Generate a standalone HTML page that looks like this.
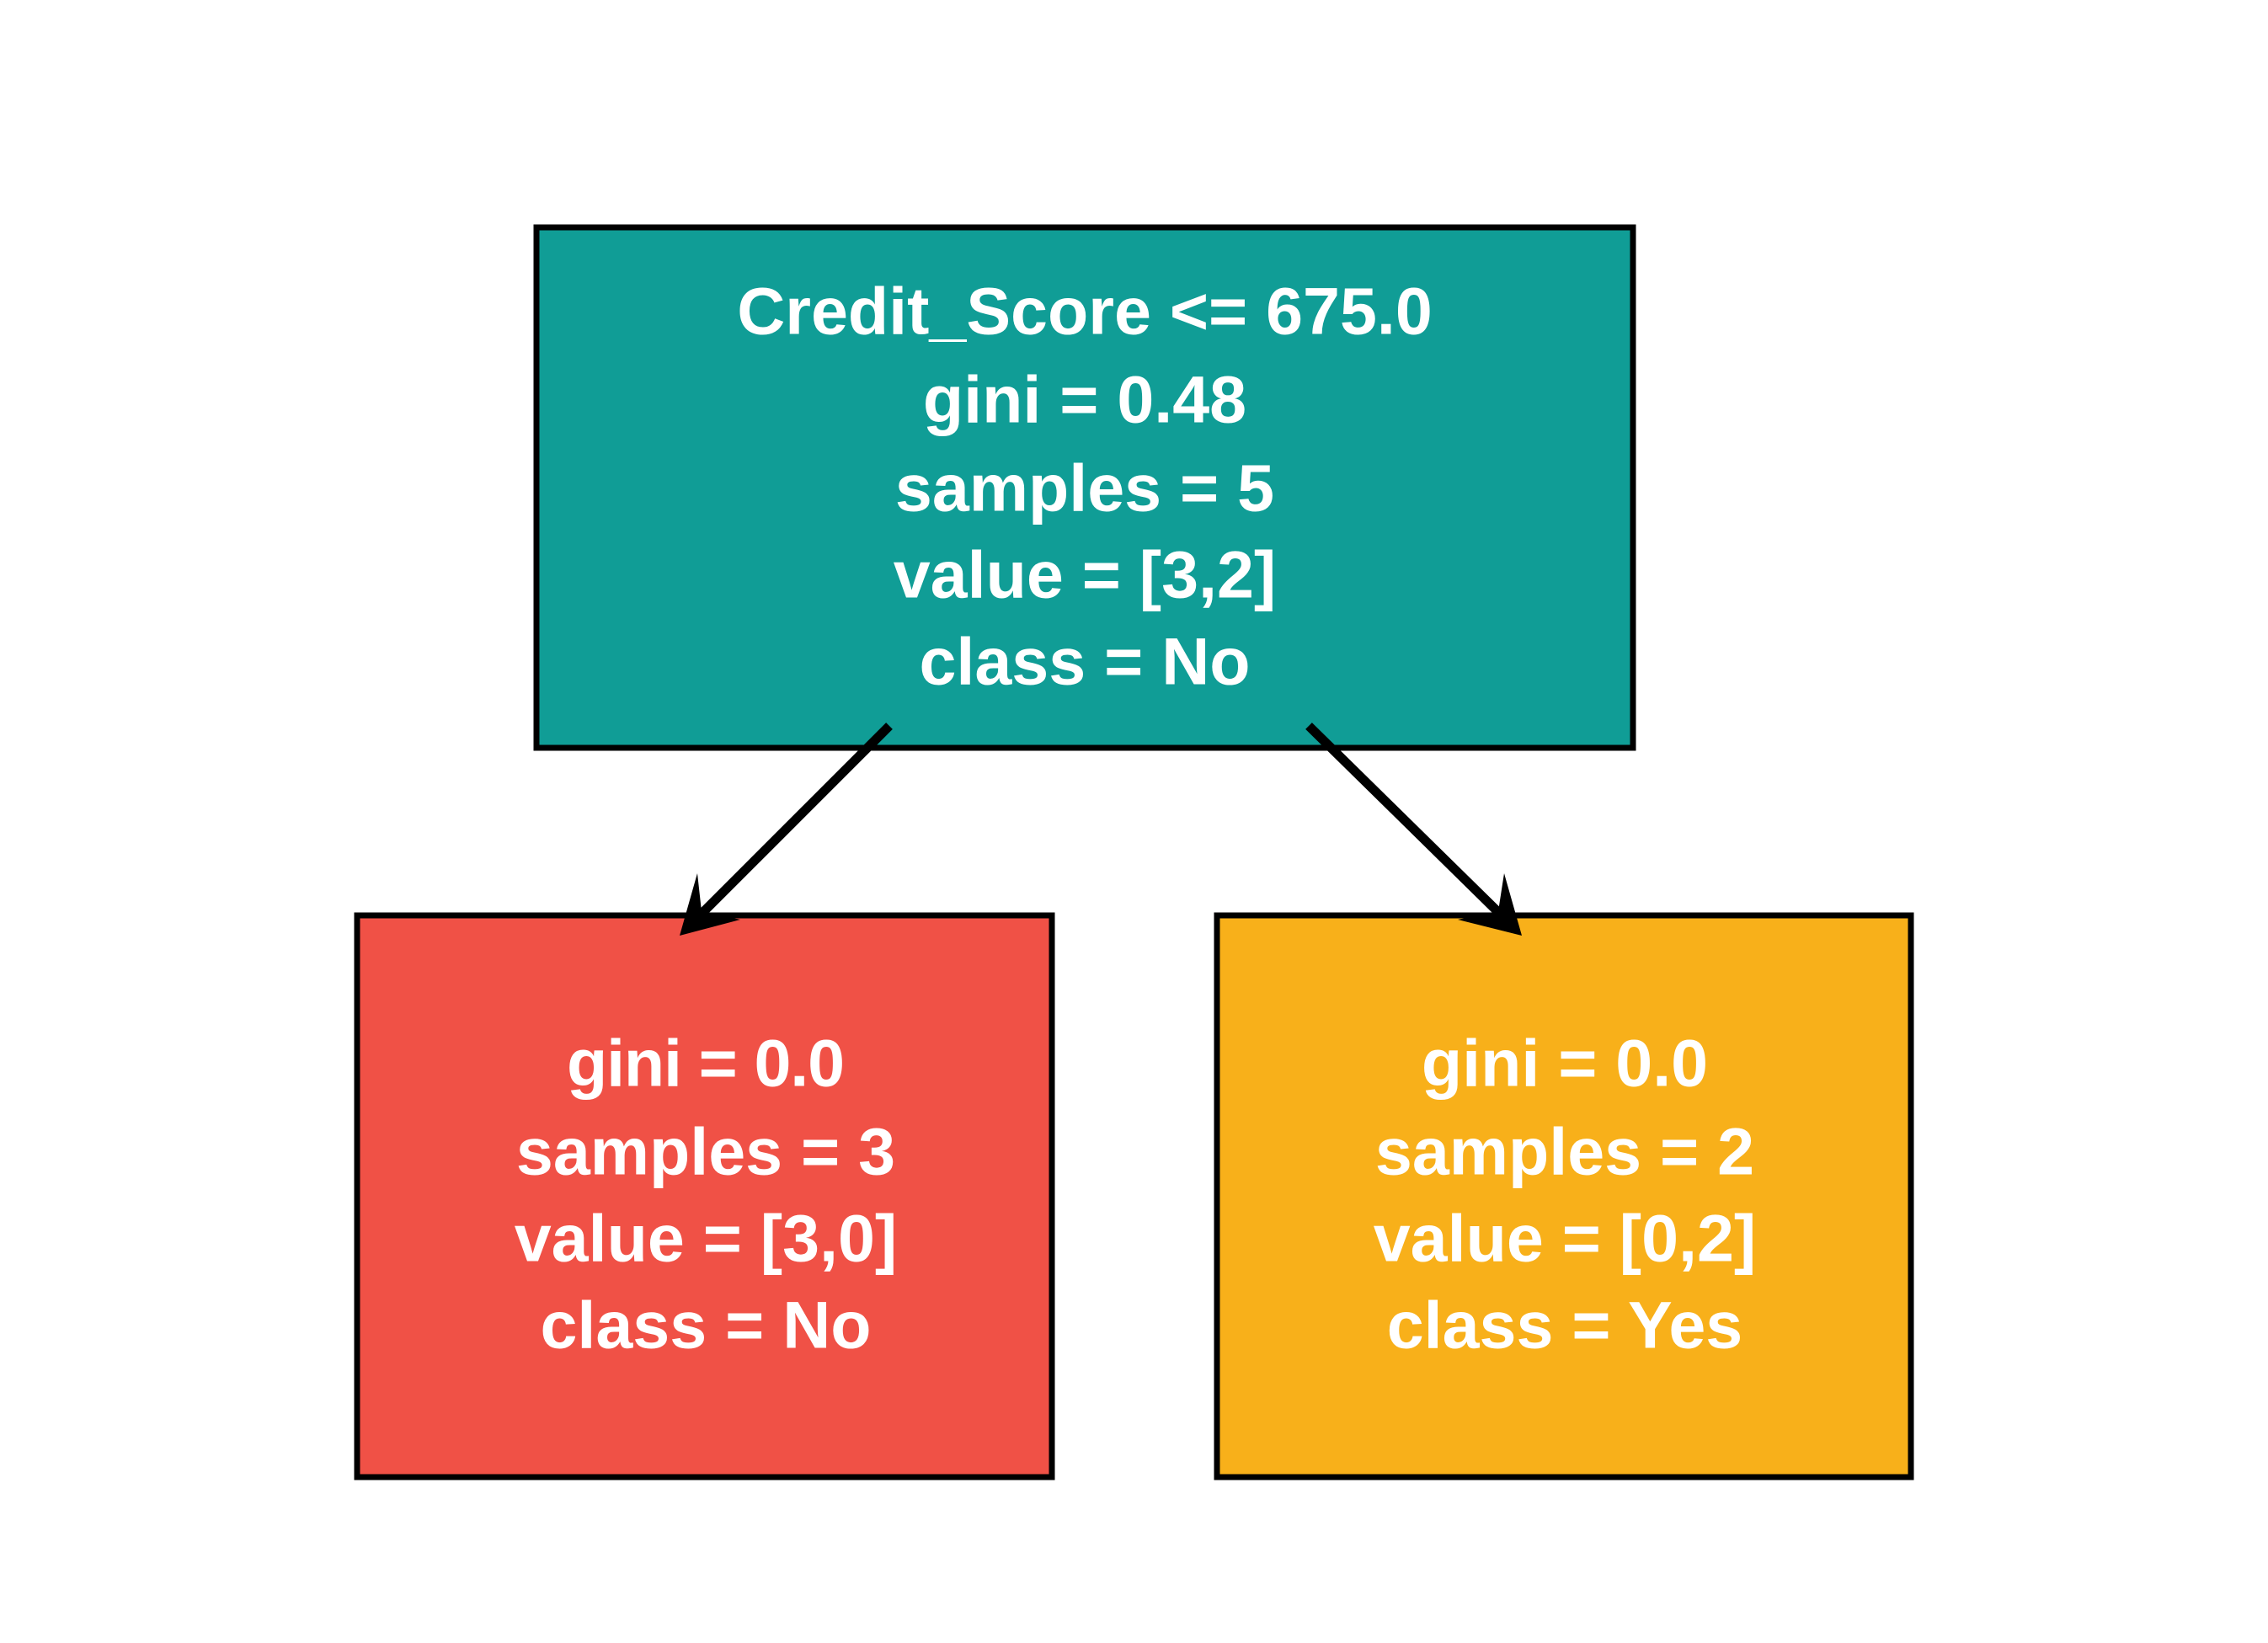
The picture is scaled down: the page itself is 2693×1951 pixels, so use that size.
<!DOCTYPE html>
<html><head><meta charset="utf-8"><style>
html,body{margin:0;padding:0;background:#fff;}
svg{display:block;}
text{font-family:"Liberation Sans",sans-serif;font-weight:bold;fill:#fff;font-size:79px;text-anchor:middle;dominant-baseline:central;}
</style></head><body>
<svg width="2693" height="1951" viewBox="0 0 2693 1951" xmlns="http://www.w3.org/2000/svg">
<rect x="0" y="0" width="2693" height="1951" fill="#fff"/>
<rect x="637" y="270" width="1302" height="618" fill="#109d96" stroke="#000" stroke-width="7"/>
<rect x="424" y="1087" width="825" height="667" fill="#f05146" stroke="#000" stroke-width="7"/>
<rect x="1445" y="1087" width="824" height="667" fill="#f8b01a" stroke="#000" stroke-width="7"/>
<text x="1288" y="369">Credit_Score &lt;= 675.0</text>
<text x="1288" y="474">gini = 0.48</text>
<text x="1288" y="579">samples = 5</text>
<text x="1288" y="682">value = [3,2]</text>
<text x="1288" y="785">class = No</text>
<text x="838" y="1262" textLength="330">gini = 0.0</text>
<text x="838" y="1367">samples = 3</text>
<text x="838" y="1470">value = [3,0]</text>
<text x="838" y="1573">class = No</text>
<text x="1858" y="1262">gini = 0.0</text>
<text x="1858" y="1367">samples = 2</text>
<text x="1858" y="1470">value = [0,2]</text>
<text x="1858" y="1573">class = Yes</text>
<line x1="1056" y1="862" x2="828" y2="1090" stroke="#000" stroke-width="11"/>
<polygon points="807,1111 828,1037 833,1082 879,1092" fill="#000"/>
<line x1="1554" y1="862" x2="1786" y2="1090" stroke="#000" stroke-width="11"/>
<polygon points="1807,1111 1786,1037 1779,1082 1731,1092" fill="#000"/>
</svg>
</body></html>
